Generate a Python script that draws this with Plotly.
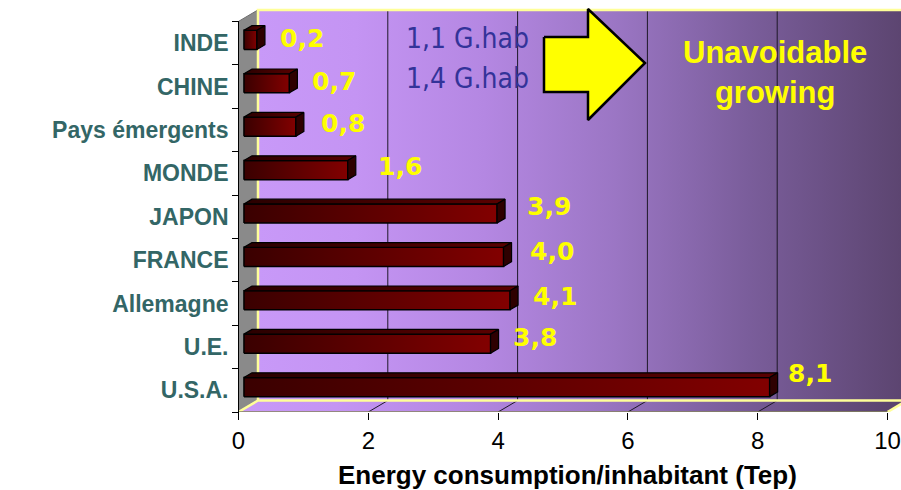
import plotly.graph_objects as go

# Energy consumption per inhabitant (Tep), listed top to bottom
categories = ["INDE", "CHINE", "Pays émergents", "MONDE", "JAPON",
              "FRANCE", "Allemagne", "U.E.", "U.S.A."]
values = [0.2, 0.7, 0.8, 1.6, 3.9, 4.0, 4.1, 3.8, 8.1]
x_ticks = [0, 2, 4, 6, 8, 10]
population_notes = {"INDE": "1,1 G.hab", "CHINE": "1,4 G.hab"}

# ---- frame geometry (pixels of the 901x490 canvas) ----
W, H = 901, 490
PLOT_H = 412                 # floor front edge sits on the plot bottom
X0_PX, SX = 238.5, 64.9      # pixel of x=0 and pixels per unit
SY = 43.4                    # pixels per category band

def px2x(px):
    return (px - X0_PX) / SX

def px2y(py):
    return -0.5 + (PLOT_H - py) / SY

DX, DY = 19.5 / SX, 11.5 / SY     # full depth of the 3-D box
TOP = 8.5 + DY                    # top of the back wall
X_BACK_END = 10 + DX + 0.3

n = len(categories)
idx = [n - 1 - i for i in range(n)]   # first category at the top

wall_scale = [[0.0, "#c899f8"], [0.15, "#c494f3"], [0.35, "#b487e2"],
              [0.55, "#9b76c4"], [0.75, "#7b5e9c"], [1.0, "#5b446f"]]

fig = go.Figure()

def poly(xs, ys, fill=None, grad=None, line_color=None, line_width=0):
    kw = dict(x=list(xs) + [xs[0]], y=list(ys) + [ys[0]], mode="lines",
              fill="toself", hoverinfo="skip", showlegend=False,
              line=dict(color=line_color or "rgba(0,0,0,0)", width=line_width))
    if grad is not None:
        kw["fillgradient"] = grad
    else:
        kw["fillcolor"] = fill
    fig.add_trace(go.Scatter(**kw))

def seg(xs, ys, color, width):
    fig.add_trace(go.Scatter(x=xs, y=ys, mode="lines", hoverinfo="skip",
                             showlegend=False,
                             line=dict(color=color, width=width)))

# back wall
poly([DX, X_BACK_END, X_BACK_END, DX], [-0.5 + DY, -0.5 + DY, TOP, TOP],
     grad=dict(type="horizontal", colorscale=wall_scale, start=DX, stop=10 + DX))

# back-wall gridlines
for v in x_ticks[1:-1]:
    seg([v + DX, v + DX], [-0.5 + DY, TOP], "#1e1828", 1)

# floor
poly([0, 10, 10 + DX, DX], [-0.5, -0.5, -0.5 + DY, -0.5 + DY],
     grad=dict(type="horizontal", colorscale=wall_scale, start=0, stop=10))
for v in x_ticks[1:-1]:
    seg([v, v + DX], [-0.5, -0.5 + DY], "#1e1828", 1)

# left wall
poly([0, 0, DX, DX], [-0.5, 8.5, TOP, -0.5 + DY], fill="#8a8a8a",
     line_color="#6e6e6e", line_width=1)

# pale yellow edges of the box
seg([DX, DX, X_BACK_END], [-0.5 + DY, TOP, TOP], "#ffff99", 2.5)
seg([0, DX, X_BACK_END], [-0.5, -0.5 + DY, -0.5 + DY], "#ffff99", 2.5)
seg([10, 10 + DX], [-0.5, -0.5 + DY], "#ffff99", 2.5)
seg([0, 10], [-0.5, -0.5], "#85855a", 1.5)

# value axis line
seg([0, 0], [-0.5, 8.5], "black", 1)

# 3-D bars
D0 = 0.28          # depth fraction of the bar front face
DD = 0.41          # bar thickness as depth fraction
HALF = 0.22        # half height of the front face (category units)
bx, by = DD * DX, DD * DY
for c, v in zip(idx, values):
    x0 = D0 * DX
    x1 = v + D0 * DX
    yc = c + D0 * DY
    y0, y1 = yc - HALF, yc + HALF
    # front face
    poly([x0, x1, x1, x0], [y0, y0, y1, y1],
         grad=dict(type="horizontal",
                   colorscale=[[0, "#3a0000"], [1, "#820000"]]),
         line_color="black", line_width=1.5)
    # top face
    poly([x0, x1, x1 + bx, x0 + bx], [y1, y1, y1 + by, y1 + by],
         grad=dict(type="horizontal",
                   colorscale=[[0, "#2a0000"], [1, "#5a0000"]]),
         line_color="black", line_width=1.2)
    # end face
    poly([x1, x1 + bx, x1 + bx, x1], [y0, y0 + by, y1 + by, y1],
         fill="#2e0000", line_color="black", line_width=1.2)

layout_annotations = []

# value labels next to each bar (small per-label pixel nudges)
label_nudge_px = [(-2, 5), (-2, 5), (0, 6), (5, 7), (5, 10),
                  (1, 9), (-2, 7), (-3, 9), (-7, 17)]
for c, v, (nx, ny) in zip(idx, values, label_nudge_px):
    layout_annotations.append(dict(
        x=v + (D0 + DD) * DX, y=c, xref="x", yref="y",
        text=f"{v:.1f}".replace(".", ","), showarrow=False,
        xanchor="left", yanchor="middle", xshift=15 + nx, yshift=ny,
        font=dict(family="DejaVu Sans", size=25, color="#ffff00",
                  weight="bold")))

# population notes
for name, note_y in zip(["INDE", "CHINE"], [38, 78]):
    layout_annotations.append(dict(
        x=px2x(467), y=px2y(note_y), xref="x", yref="y",
        text=population_notes[name], showarrow=False,
        xanchor="center", yanchor="middle",
        font=dict(family="Liberation Sans Narrow, DejaVu Sans Condensed, Arial Narrow, sans-serif",
                  size=28, color="#333399")))

# yellow block arrow
arrow_px = [(544, 37), (588, 37), (588, 9), (645, 63),
            (588, 120), (588, 92), (544, 92)]
poly([px2x(p[0]) for p in arrow_px], [px2y(p[1]) for p in arrow_px],
     fill="#ffff00", line_color="black", line_width=2.5)

layout_annotations.append(dict(
    x=px2x(775), y=px2y(72), xref="x", yref="y",
    text="Unavoidable<br>growing", showarrow=False,
    xanchor="center", yanchor="middle",
    font=dict(family="Liberation Sans, Arial", size=31, color="#ffff00",
              weight="bold")))

# axis title
layout_annotations.append(dict(
    x=567.5 / W, y=(PLOT_H - 475) / PLOT_H, xref="paper", yref="paper",
    text="Energy consumption/inhabitant (Tep)", showarrow=False,
    xanchor="center", yanchor="middle",
    font=dict(family="Liberation Sans, Arial", size=26, color="black",
              weight="bold")))

fig.update_layout(
    width=W, height=H,
    margin=dict(l=0, r=0, t=0, b=H - PLOT_H, pad=0),
    paper_bgcolor="white", plot_bgcolor="white",
    showlegend=False,
    annotations=layout_annotations,
    xaxis=dict(range=[px2x(0), px2x(W)], tickvals=x_ticks,
               ticktext=[str(t) for t in x_ticks],
               ticks="outside", ticklen=7, tickcolor="black", tickwidth=1,
               showgrid=False, zeroline=False, showline=False,
               fixedrange=True, automargin=False,
               tickfont=dict(family="Liberation Sans, Arial", size=24,
                             color="black")),
    yaxis=dict(range=[-0.5, px2y(0)], anchor="free", position=X0_PX / W,
               tickvals=idx, ticktext=categories, ticks="",
               ticklabelstandoff=10,
               minor=dict(ticks="outside", ticklen=7, tickcolor="black",
                          tick0=-0.5, dtick=1, showgrid=False),
               showgrid=False, zeroline=False, showline=False,
               fixedrange=True, automargin=False,
               tickfont=dict(family="Liberation Sans, Arial", size=23,
                             color="#336666", weight="bold")),
)

fig.write_html("out.html")
